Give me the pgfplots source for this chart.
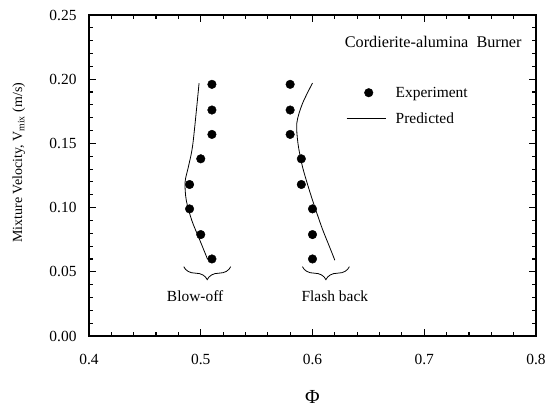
\documentclass[border=0pt]{standalone}
\usepackage{pgfplots}
\pgfplotsset{compat=1.18}
\usepackage{fontspec}
\setmainfont{Liberation Serif}
\usetikzlibrary{decorations.pathreplacing}
\begin{document}
\begin{tikzpicture}
\useasboundingbox (-89bp,-74bp) rectangle (458bp,336bp);
\begin{axis}[
  at={(0,0)}, anchor=south west,
  scale only axis, width=447bp, height=321bp,
  xmin=0.4, xmax=0.8, ymin=0, ymax=0.25,
  xtick={0.4,0.5,0.6,0.7,0.8},
  ytick={0,0.05,0.1,0.15,0.2,0.25},
  minor x tick num=4, minor y tick num=4,
  tick align=inside, ticks=both,
  xtick pos=both, ytick pos=both,
  major tick length=7bp, minor tick length=4bp,
  axis line style={line width=2bp},
  every tick/.style={black, line width=1.1bp},
  /pgf/number format/assume math mode=true,
  ticklabel style={font=\fontsize{15.5}{18}\selectfont},
  xticklabel style={/pgf/number format/.cd, fixed, fixed zerofill, precision=1, /tikz/.cd, yshift=-15bp},
  yticklabel style={/pgf/number format/.cd, fixed, fixed zerofill, precision=2, /tikz/.cd, xshift=-9bp},
  scaled ticks=false,
  xlabel={Φ},
  xlabel style={font=\fontsize{20}{22}\selectfont, at={(axis description cs:0.5,-0.19)}, anchor=center},
  ylabel={Mixture Velocity, V\textsubscript{mix} (m/s)},
  ylabel style={font=\fontsize{14}{16}\selectfont, at={(axis description cs:-0.157,0.54)}, anchor=center},
  legend style={draw=none, fill=none, at={(axis description cs:0.575,0.783)}, anchor=north west,
    font=\fontsize{15.5}{18}\selectfont, row sep=10bp, inner sep=0pt, nodes={inner sep=2bp}},
  legend cell align=left,
  clip=false,
]
\addplot[only marks, mark=*, mark size=4.3bp, black,
  legend image code/.code={\path[draw=none, fill=none] (0cm,0cm) -- (1.66cm,0cm); \fill[black] (0.78cm,0cm) circle (4.3bp);}]
  coordinates {
  (0.510,0.196) (0.510,0.176) (0.510,0.157) (0.500,0.138)
  (0.490,0.118) (0.490,0.099) (0.500,0.079) (0.510,0.060)
  (0.580,0.196) (0.580,0.176) (0.580,0.157) (0.590,0.138)
  (0.590,0.118) (0.600,0.099) (0.600,0.079) (0.600,0.060)
};
\addlegendentry{Experiment}
\addplot[black, line width=0.8bp, smooth, tension=0.5,
  legend image code/.code={\path[draw=none, fill=none] (0cm,0cm) -- (1.66cm,0cm); \draw[black, line width=0.8bp] (0cm,0cm) -- (1.38cm,0cm);}]
  coordinates {
  (0.4985,0.197) (0.493,0.150) (0.489,0.132) (0.486,0.120)
  (0.487,0.106) (0.492,0.090) (0.499,0.075) (0.506,0.060)
};
\addlegendentry{Predicted}
\addplot[black, line width=0.8bp, smooth, tension=0.5, forget plot]
  coordinates {
  (0.600,0.197) (0.591,0.181) (0.586,0.166) (0.587,0.150)
  (0.591,0.132) (0.597,0.114) (0.603,0.098) (0.609,0.083)
  (0.615,0.070) (0.620,0.059)
};
\draw[decorate, decoration={brace, mirror, amplitude=13bp}, line width=0.8bp]
  (axis cs:0.4848,0.054) -- (axis cs:0.5268,0.054);
\draw[decorate, decoration={brace, mirror, amplitude=13bp}, line width=0.8bp]
  (axis cs:0.591,0.054) -- (axis cs:0.633,0.054);
\node[font=\fontsize{15.5}{18}\selectfont] at (axis cs:0.495,0.031) {Blow-off};
\node[font=\fontsize{15.5}{18}\selectfont] at (axis cs:0.62,0.031) {Flash back};
\node[font=\fontsize{16.3}{19}\selectfont] at (axis description cs:0.770,0.916) {Cordierite-alumina\ \ Burner};
\end{axis}
\end{tikzpicture}
\end{document}
